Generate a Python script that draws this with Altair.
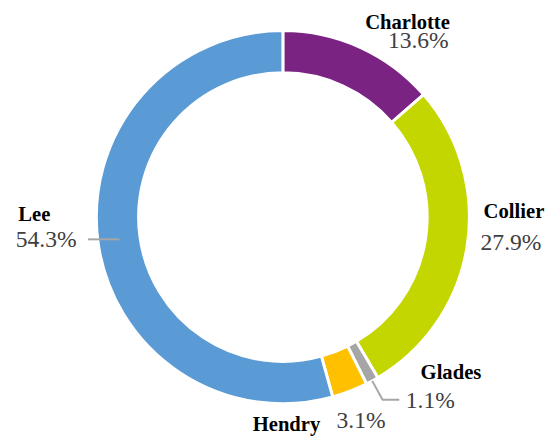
import altair as alt
import pandas as pd
import numpy as np

# ---- data ----
categories = ["Charlotte", "Collier", "Glades", "Hendry", "Lee"]
shares = [13.6, 27.9, 1.1, 3.1, 54.3]
pct_labels = ["13.6%", "27.9%", "1.1%", "3.1%", "54.3%"]
colors = ["#7B2383", "#C4D600", "#A6A6A6", "#FFC000", "#5B9BD5"]

# ---- layout / style ----
CX, CY = 280, 209
R_OUT, R_IN = 190, 147
R_LAB = 205
SERIF = "Liberation Serif"
# (dx, dy) offsets from the label anchor on the mid angle, per category
name_off = {"Charlotte": (42, -11), "Collier": (33, -38), "Glades": (73, -21),
            "Hendry": (-70, 21), "Lee": (-50, -30)}
pct_off = {"Charlotte": (53, 7), "Collier": (30, -6), "Glades": (52, 7),
           "Hendry": (6, 17), "Lee": (-38, -4)}
# leader lines: list of (radius, horizontal offset) points
leaders = {"Lee": [(168, 0), (168, -32)], "Glades": [(190, 0), (212, 0), (212, 17)]}

df = pd.DataFrame({"county": categories, "share": shares, "pct": pct_labels,
                   "order": list(range(len(categories)))})
total = float(sum(shares))
df["mid"] = np.cumsum(shares) - np.array(shares) / 2.0

color_scale = alt.Scale(domain=categories, range=colors)

arcs = alt.Chart(df).mark_arc(outerRadius=R_OUT, innerRadius=R_IN,
                              stroke="white", strokeWidth=3).encode(
    theta=alt.Theta("share:Q", stack=True),
    order=alt.Order("order:Q"),
    color=alt.Color("county:N", scale=color_scale, legend=None),
    x=alt.value(CX), y=alt.value(CY),
)

layers = [arcs]
for c in categories:
    sub = alt.Chart(df).transform_filter(alt.datum.county == c)
    dx, dy = name_off[c]
    layers.append(sub.mark_text(radius=R_LAB, dx=dx, dy=dy, align="center",
                                baseline="middle", font=SERIF, fontSize=21,
                                fontWeight="bold", color="#000000").encode(
        theta=alt.Theta("mid:Q", stack=None), text="county:N",
        x=alt.value(CX), y=alt.value(CY)))
    dx, dy = pct_off[c]
    layers.append(sub.mark_text(radius=R_LAB, dx=dx, dy=dy, align="center",
                                baseline="middle", font=SERIF, fontSize=24,
                                color="#404040").encode(
        theta=alt.Theta("mid:Q", stack=None), text="pct:N",
        x=alt.value(CX), y=alt.value(CY)))

rows = []
for c, pts in leaders.items():
    m = float(df.loc[df.county == c, "mid"].iloc[0]) / total * 2 * np.pi
    for i, (r, h) in enumerate(pts):
        rows.append({"county": c, "i": i,
                     "lx": CX + r * np.sin(m) + h, "ly": CY - r * np.cos(m)})
ldf = pd.DataFrame(rows)
lines = alt.Chart(ldf).mark_line(color="#A6A6A6", strokeWidth=2).encode(
    x=alt.X("lx:Q", scale=None, axis=None),
    y=alt.Y("ly:Q", scale=None, axis=None),
    detail="county:N", order="i:Q")
layers.append(lines)

chart = alt.layer(*layers).properties(width=530, height=425, padding=0).configure_view(stroke=None)
chart.save("out.html", embed_options={"renderer": "svg", "actions": False})
